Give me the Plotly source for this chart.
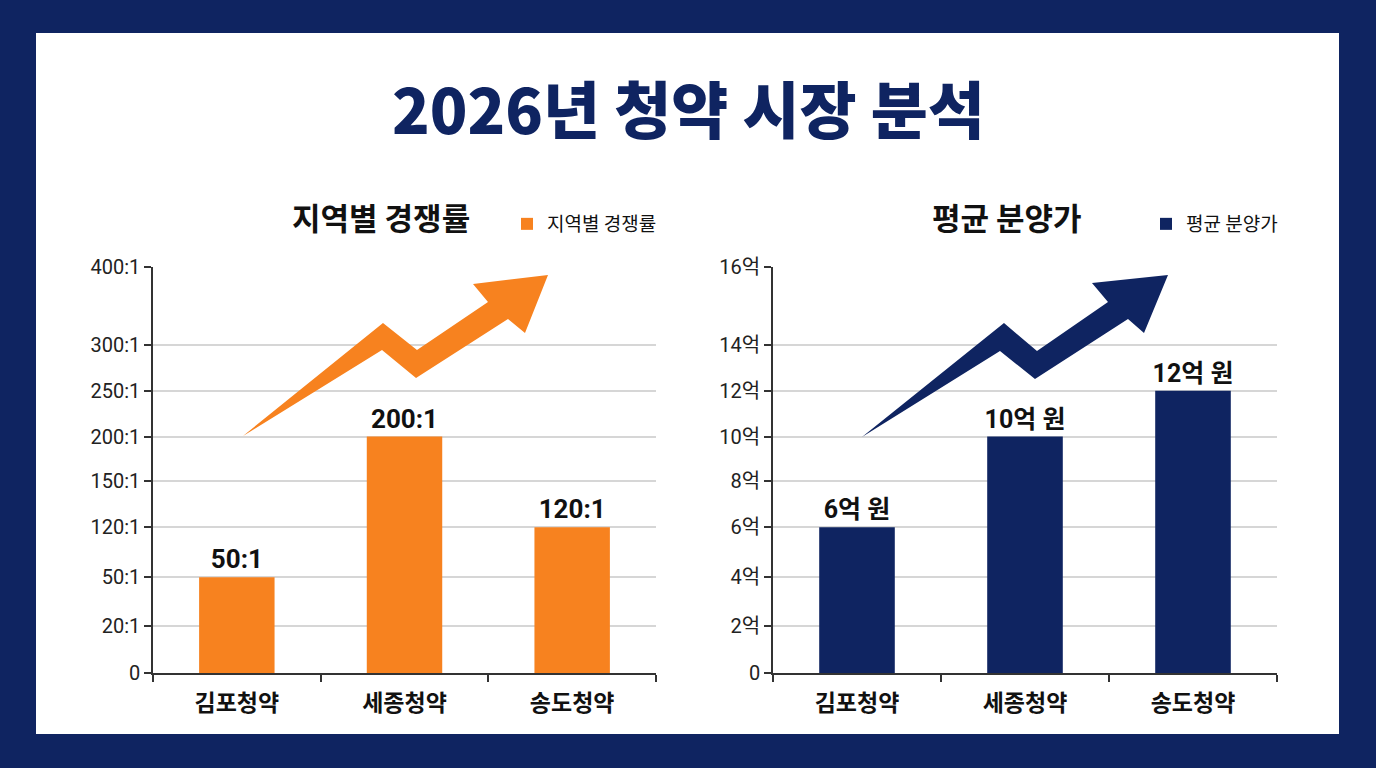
import numpy as np
import plotly.graph_objects as go

# ---------------- data ----------------
categories = ["김포청약", "세종청약", "송도청약"]
competition = [50, 200, 120]          # 경쟁률 (x:1)
price = [6, 10, 12]                   # 평균 분양가 (억)

comp_ticks = [0, 20, 50, 120, 150, 200, 250, 300, 400]
comp_ticktext = ["0", "20:1", "50:1", "120:1", "150:1", "200:1", "250:1", "300:1", "400:1"]
price_ticks = [0, 2, 4, 6, 8, 10, 12, 14, 16]
price_ticktext = ["0", "2억", "4억", "6억", "8억", "10억", "12억", "14억", "16억"]

# custom (non-linear) axis scale: where each tick sits on the axis
axis_slots = [0, 47, 96, 146, 192, 237, 283, 329, 407]

title_text = "2026년 청약 시장 분석"
left_title = "지역별 경쟁률"
right_title = "평균 분양가"

ORANGE = "#f7821f"
NAVY = "#0f2461"
W, H = 1376, 768
FONT = "Roboto, 'Noto Sans CJK KR', sans-serif"
KFONT = "'Noto Sans CJK KR', sans-serif"


def scale(vals, ticks):
    return list(np.interp(vals, ticks, axis_slots))


def px(x):
    return x / W


def py(y):
    return 1 - y / H


fig = go.Figure()

fig.add_trace(go.Bar(
    x=categories, y=scale(competition, comp_ticks),
    marker=dict(color=ORANGE, line=dict(width=0)),
    text=[f"{v}:1" for v in competition], textposition="outside",
    textfont=dict(family=FONT, size=26, color="#111111", weight="bold"),
    constraintext="none", cliponaxis=False,
    name=left_title, legend="legend", xaxis="x", yaxis="y",
    hovertext=[f"{v}:1" for v in competition], hoverinfo="x+text",
))
fig.add_trace(go.Bar(
    x=categories, y=scale(price, price_ticks),
    marker=dict(color=NAVY, line=dict(width=0)),
    text=[f"{v}억 원" for v in price], textposition="outside",
    textfont=dict(family=FONT, size=25, color="#111111", weight="bold"),
    constraintext="none", cliponaxis=False,
    name=right_title, legend="legend2", xaxis="x2", yaxis="y2",
    hovertext=[f"{v}억 원" for v in price], hoverinfo="x+text",
))

ydom = [py(673), py(267)]
xaxis_common = dict(
    showline=True, linecolor="#333333", linewidth=1.5,
    ticks="outside", tickson="boundaries", ticklen=7, tickcolor="#333333", tickwidth=1.5,
    tickfont=dict(family=KFONT, size=23, color="#111111", weight="bold"),
    showgrid=False, fixedrange=True, ticklabelstandoff=9, automargin=False,
)
yaxis_common = dict(
    range=[0, axis_slots[-1]], tickvals=axis_slots,
    showline=True, linecolor="#333333", linewidth=1.5,
    ticks="outside", ticklen=7, tickcolor="#333333", tickwidth=1.5,
    tickfont=dict(family=FONT, size=20, color="#222222"),
    showgrid=True, gridcolor="#d6d6d6", gridwidth=1.5,
    zeroline=False, fixedrange=True, domain=ydom, automargin=False,
)

fig.update_layout(
    width=W, height=H, autosize=False,
    margin=dict(l=0, r=0, t=0, b=0, pad=0, autoexpand=False),
    paper_bgcolor=NAVY, plot_bgcolor="rgba(0,0,0,0)",
    bargap=0.55,
    xaxis=dict(domain=[px(153), px(656)], anchor="y", **xaxis_common),
    xaxis2=dict(domain=[px(773), px(1277)], anchor="y2", **xaxis_common),
    yaxis=dict(anchor="x", ticktext=comp_ticktext, **yaxis_common),
    yaxis2=dict(anchor="x2", ticktext=price_ticktext, **yaxis_common),
    legend=dict(x=px(662), y=py(224), xanchor="right", yanchor="middle",
                bgcolor="rgba(0,0,0,0)", itemwidth=30,
                font=dict(family=KFONT, size=19, color="#111111")),
    legend2=dict(x=px(1283), y=py(224), xanchor="right", yanchor="middle",
                 bgcolor="rgba(0,0,0,0)", itemwidth=30,
                 font=dict(family=KFONT, size=19, color="#111111")),
    showlegend=True,
)

# white panel
fig.add_shape(type="rect", xref="paper", yref="paper",
              x0=px(36), x1=px(1339), y0=py(734), y1=py(33),
              fillcolor="white", line=dict(width=0), layer="below")


# decorative zig-zag arrows
def arrow_path(pts):
    return "M " + " L ".join(f"{px(x):.5f},{py(y):.5f}" for x, y in pts) + " Z"


left_arrow = [(243, 436), (383, 323), (417, 350), (488, 302), (473, 284),
              (548, 275), (525, 333), (508, 319), (416, 378), (382, 350)]
right_arrow = [(862, 437), (1004, 323), (1037, 351), (1108, 302), (1092, 283),
               (1168, 275), (1144, 333), (1128, 319), (1035, 379), (1000, 351)]
fig.add_shape(type="path", xref="paper", yref="paper", path=arrow_path(left_arrow),
              fillcolor=ORANGE, line=dict(width=0), layer="above")
fig.add_shape(type="path", xref="paper", yref="paper", path=arrow_path(right_arrow),
              fillcolor=NAVY, line=dict(width=0), layer="above")

# titles
fig.add_annotation(text=title_text, xref="paper", yref="paper", x=px(688), y=py(107),
                   showarrow=False, xanchor="center", yanchor="middle",
                   font=dict(family=KFONT, size=62, color=NAVY, weight=900))
fig.add_annotation(text=left_title, xref="paper", yref="paper", x=px(381), y=py(217),
                   showarrow=False, xanchor="center", yanchor="middle",
                   font=dict(family=KFONT, size=31, color="#111111", weight="bold"))
fig.add_annotation(text=right_title, xref="paper", yref="paper", x=px(1007), y=py(217),
                   showarrow=False, xanchor="center", yanchor="middle",
                   font=dict(family=KFONT, size=31, color="#111111", weight="bold"))

fig.write_html("out.html")
